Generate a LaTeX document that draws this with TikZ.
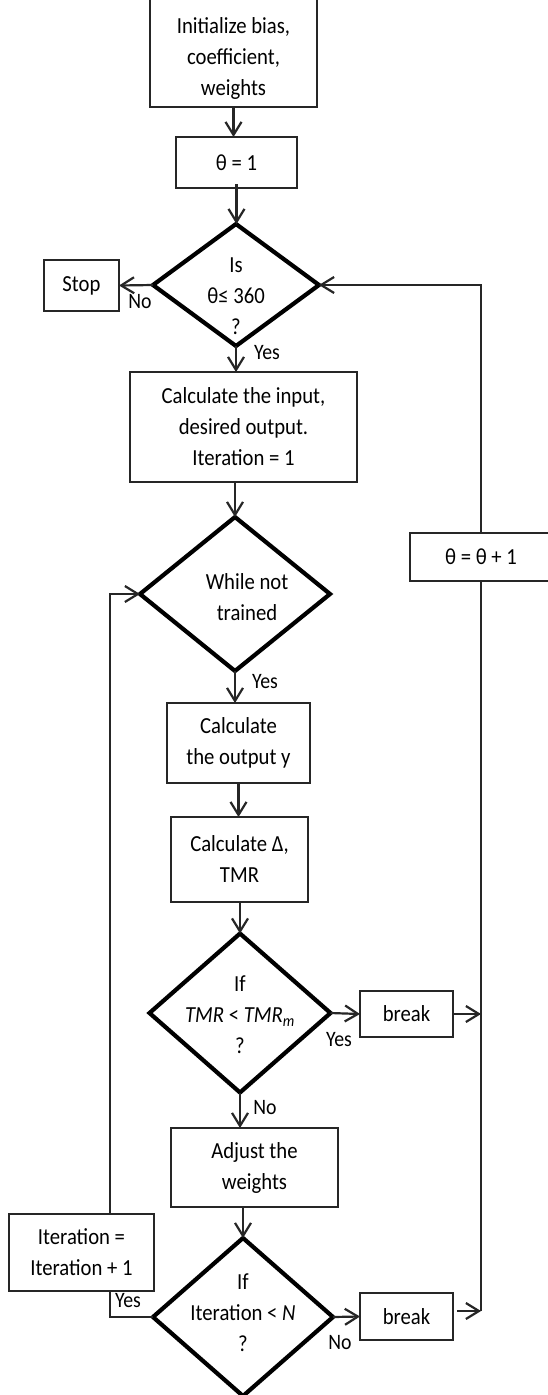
\documentclass[tikz,border=0pt]{standalone}
\usepackage{fontspec}
\setmainfont{Carlito}[FakeStretch=0.9]
\usetikzlibrary{arrows.meta,shapes.geometric}
\begin{document}
\begin{tikzpicture}[x=1pt,y=-1pt,
  txt/.style={font=\fontsize{23}{31}\selectfont, align=center, inner sep=0pt},
  box/.style={txt, draw=black!85, line width=2pt, fill=white, inner sep=0pt, outer sep=0pt},
  dia/.style={diamond, draw=black, line width=4.2pt, inner sep=0pt, outer sep=0pt, line join=miter},
  lbl/.style={font=\fontsize{22}{24}\selectfont, inner sep=0pt},
  conn/.style={draw=black!85, line width=2.2pt},
  arr/.style={conn, -{Straight Barb[length=13pt,width=16pt,line width=2.2pt]}}
]
\useasboundingbox (0,0) rectangle (548,1395);
\fill[white] (0,0) rectangle (548,1395);

% nodes
\node[box, minimum width=167pt, minimum height=117pt] (init) at (233.5,48.5) {};
\node[txt] (initt) at (233.5,58) {Initialize bias,\\coefficient,\\weights};
\node[box, minimum width=121pt, minimum height=51pt] (th1) at (236.5,162.5) {θ = 1};
\node[dia, minimum width=166pt, minimum height=122pt] (d1) at (236,285) {};
\node[txt] (d1t) at (236,296) {Is\\θ≤ 360\\?};
\node[box, minimum width=75pt, minimum height=51pt] (stop) at (81.5,285.5) {Stop};
\node[box, minimum width=227pt, minimum height=110pt] (calc) at (243.5,427) {Calculate the input,\\desired output.\\Iteration = 1};
\node[dia, minimum width=190pt, minimum height=154pt] (d2) at (235,594) {};
\node[txt] (d2t) at (247,597) {While not\\trained};
\node[box, minimum width=142pt, minimum height=48pt] (inc) at (481,557) {θ = θ + 1};
\node[box, minimum width=143pt, minimum height=80pt] (out) at (238.5,743) {Calculate\\the output y};
\node[box, minimum width=137pt, minimum height=85pt] (delta) at (239.5,859.5) {Calculate Δ,\\TMR};
\node[dia, minimum width=181pt, minimum height=159pt] (d3) at (240,1013) {};
\node[txt] (d3t) at (240,1015) {If\\\textit{TMR} < \textit{TMR}\textsubscript{\textit{m}}\\?};
\node[box, minimum width=93pt, minimum height=46pt] (b1) at (406.5,1014) {break};
\node[box, minimum width=167pt, minimum height=79pt] (adj) at (254.5,1167.5) {Adjust the\\weights};
\node[dia, minimum width=180pt, minimum height=158pt] (d4) at (243,1317) {};
\node[txt] (d4t) at (243,1313) {If\\Iteration < \textit{N}\\?};
\node[box, minimum width=93pt, minimum height=47pt] (b2) at (406.5,1316.5) {break};

\coordinate (rline) at (481,1311);
\coordinate (lp) at (110,0);

% loop back to "While not trained" (behind the Iteration box)
\draw[arr] (d4.west) -- (d4.west -| lp) -- (lp |- d2.west) -- (d2.west);
\node[box, minimum width=145pt, minimum height=77pt] (iter) at (81.5,1252.5) {Iteration =\\Iteration + 1};

% main flow
\draw[arr] (init.south) -- (init.south |- th1.north);
\draw[arr] ([yshift=4pt]th1.south) -- (th1.south |- d1.north);
\draw[arr] (d1.west) -- (stop.east);
\draw[arr] (d1.south) -- (d1.south |- calc.north);
\draw[arr] (d2.north |- calc.south) -- (d2.north);
\draw[arr] (d2.south) -- (d2.south |- out.north);
\draw[arr] (out.south) -- (out.south |- delta.north);
\draw[arr] (d3.north |- delta.south) -- (d3.north);
\draw[arr] (d3.east) -- (b1.west);
\draw[arr] (d3.south) -- (d3.south |- adj.north);
\draw[arr] (d4.north |- adj.south) -- (d4.north);
\draw[arr] (d4.east) -- (b2.west);

% right return line
\draw[arr] (b1.east) -- (b1.east -| rline);
\draw[arr] ([xshift=4pt]b2.east |- rline) -- (rline);
\draw[conn] (rline) -- (inc.south);
\draw[arr] (inc.north) -- (inc.north |- d1.east) -- (d1.east);

% labels
\node[lbl] (l1) at (140,302) {No};
\node[lbl] (l2) at (267,353) {Yes};
\node[lbl] (l3) at (265,682) {Yes};
\node[lbl] (l4) at (339,1040) {Yes};
\node[lbl] (l5) at (265,1108) {No};
\node[lbl] (l6) at (128,1301) {Yes};
\node[lbl] (l7) at (340,1343) {No};
\end{tikzpicture}
\end{document}
